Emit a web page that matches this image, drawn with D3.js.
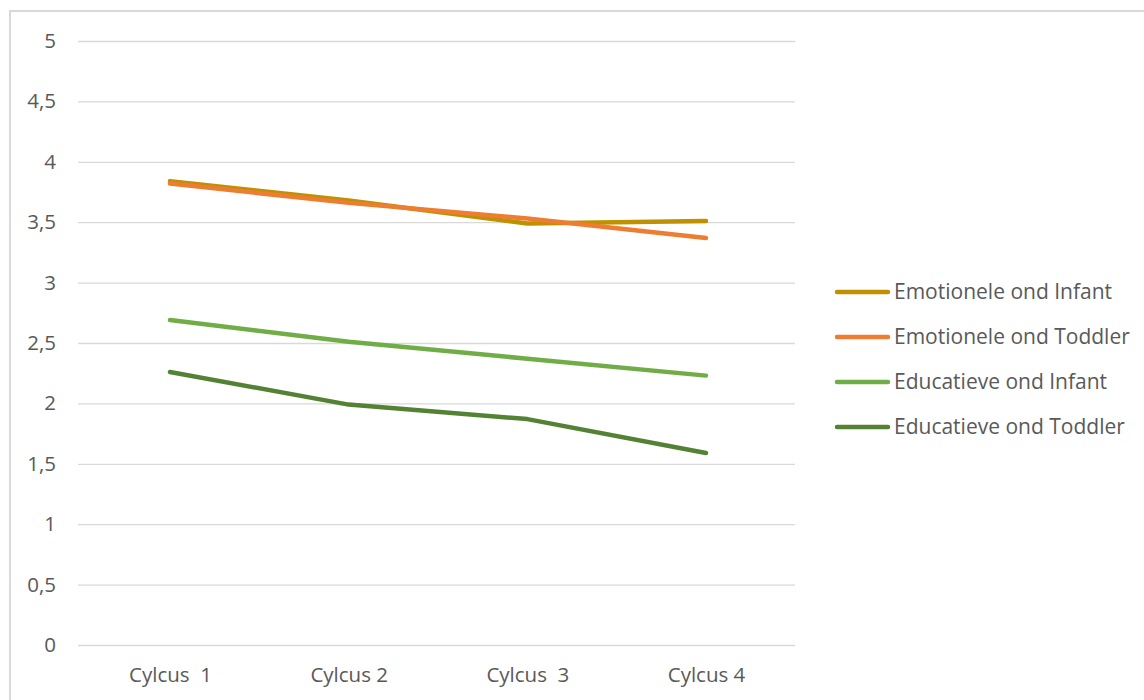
<!DOCTYPE html>
<html><head><meta charset="utf-8">
<script src="https://cdn.jsdelivr.net/npm/d3@7"></script>
<style>body{margin:0;background:#fff;}svg{display:block;font-family:"Open Sans",sans-serif;}</style>
</head><body><svg id="c" width="1144" height="700"></svg>
<script>
const categories = ["Cylcus  1","Cylcus 2","Cylcus  3","Cylcus 4"];
const seriesNames = ["Emotionele ond Infant","Emotionele ond Toddler","Educatieve ond Infant","Educatieve ond Toddler"];
const emotioneleInfant = [3.84, 3.68, 3.49, 3.51];
const emotioneleToddler = [3.82, 3.66, 3.53, 3.37];
const educatieveInfant = [2.69, 2.51, 2.37, 2.23];
const educatieveToddler = [2.26, 1.99, 1.87, 1.59];
const yTicks = [0,0.5,1,1.5,2,2.5,3,3.5,4,4.5,5];
const colors = ["#BF9000","#ED7D31","#70AD47","#548235"];
const seriesValues = [emotioneleInfant, emotioneleToddler, educatieveInfant, educatieveToddler];
const FONT = "'Open Sans',sans-serif";

const svg = d3.select("#c");
svg.append("rect").attr("x",10).attr("y",11).attr("width",1150).attr("height",700)
  .attr("fill","none").attr("stroke","#d9d9d9").attr("stroke-width",2);

const x = d3.scalePoint().domain(categories).range([170,706]);
const y = d3.scaleLinear().domain([0,5]).range([645,41]);
const fmt = d => String(d).replace(".",",");

const yAxis = svg.append("g").attr("transform","translate(78,0)")
  .call(d3.axisLeft(y).tickValues(yTicks).tickSize(-717).tickFormat(fmt).tickPadding(22));
yAxis.select(".domain").remove();
yAxis.selectAll("line").attr("stroke","#d9d9d9").attr("stroke-width",1.3);
yAxis.selectAll("text").attr("fill","#595959").style("font-size","20.5px").style("font-family",FONT);

const xAxis = svg.append("g").attr("transform","translate(0,645)")
  .call(d3.axisBottom(x).tickSize(0).tickPadding(22));
xAxis.select(".domain").remove();
xAxis.selectAll("text").attr("fill","#595959").style("font-size","20.5px").style("font-family",FONT).style("white-space","pre");

const line = d3.line().x((d,i)=>x(categories[i])).y(d=>y(d));
seriesValues.forEach((vals,k)=>{
  svg.append("path").datum(vals).attr("d",line).attr("fill","none")
    .attr("stroke",colors[k]).attr("stroke-width",4.5).attr("stroke-linecap","round").attr("stroke-linejoin","round");
});

const legendY = d3.scalePoint().domain(seriesNames).range([292,427]);
seriesNames.forEach((n,k)=>{
  const g = svg.append("g").attr("transform",`translate(0,${legendY(n)})`);
  g.append("line").attr("x1",837).attr("x2",888).attr("y1",0).attr("y2",0)
    .attr("stroke",colors[k]).attr("stroke-width",4.5).attr("stroke-linecap","round");
  g.append("text").attr("x",894).attr("y",0).attr("dy","0.35em").attr("fill","#595959")
    .style("font-size","21px").style("font-family",FONT).text(n);
});
</script></body></html>
